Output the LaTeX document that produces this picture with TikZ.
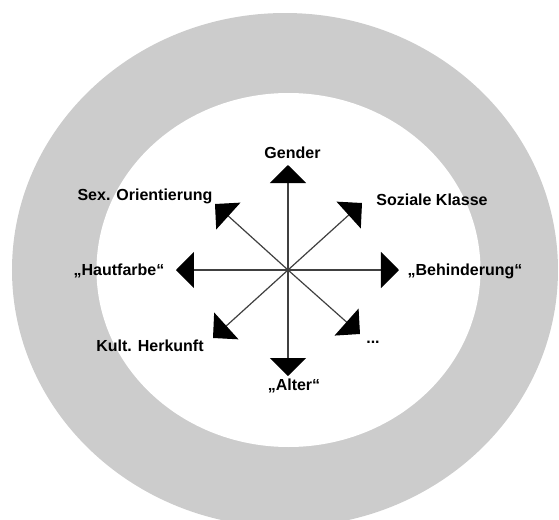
\documentclass[tikz,border=0pt]{standalone}
\usepackage{fontspec}
\setmainfont{Liberation Sans}
\usepackage{tikz}
\usetikzlibrary{arrows.meta}
\tikzset{>={Triangle[length=9pt,width=18pt,color=black]}}
\definecolor{ringgray}{RGB}{204,204,204}
\tikzset{dim/.style={font=\fontsize{8}{9.6}\selectfont\bfseries,
    inner sep=0pt, anchor=base},
  axis/.style={->, line width=0.6pt, draw=black!75}}

\begin{document}
\begin{tikzpicture}[x=0.5pt,y=-0.5pt]
    \useasboundingbox (0,0) rectangle (559,520);
    \clip (0,0) rectangle (559,520);
    \fill[ringgray] (285,270) ellipse [x radius=136.5pt, y radius=128.5pt];
    \fill[white] (288.5,270) ellipse [x radius=96pt, y radius=88.5pt];

    \coordinate (c) at (288,270);
    \coordinate (tn) at (288,165);
    \coordinate (ts) at (288,376);
    \coordinate (te) at (399,270);
    \coordinate (tw) at (176,270);
    \coordinate (tne) at (362,203);
    \coordinate (tnw) at (215,204);
    \coordinate (tsw) at (213,338);
    \coordinate (tse) at (360,334);

    \node[dim] (gender) at (292.5,158) {Gender};
    \node[dim] (orient) at (145,200) {Sex. Orientierung};
    \node[dim] (klasse) at (432,205) {Soziale Klasse};
    \node[dim] (haut) at (119,275) {„Hautfarbe“};
    \node[dim] (behind) at (465,275) {„Behinderung“};
    \node[dim] (herkunft) at (150,351) {Kult. Herkunft};
    \node[dim] (more) at (373,343) {...};
    \node[dim] (alter) at (294,390) {„Alter“};

    \draw[axis] (c) -- (tn);
    \draw[axis] (c) -- (ts);
    \draw[axis] (c) -- (te);
    \draw[axis] (c) -- (tw);
    \draw[axis] (c) -- (tne);
    \draw[axis] (c) -- (tnw);
    \draw[axis] (c) -- (tsw);
    \draw[axis] (c) -- (tse);
\end{tikzpicture}
\end{document}
